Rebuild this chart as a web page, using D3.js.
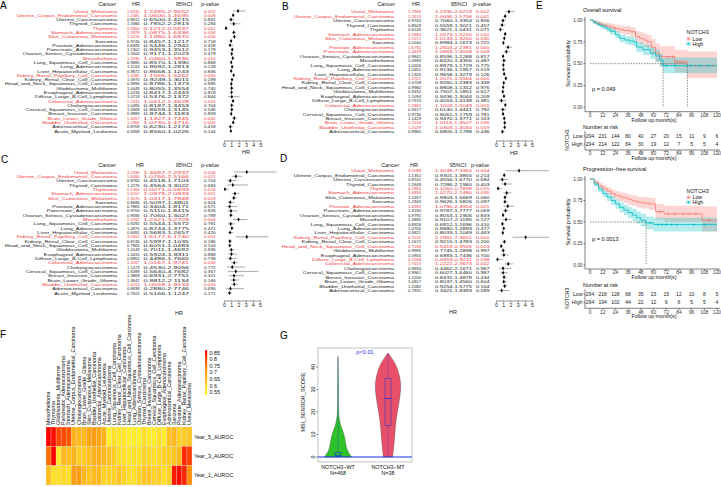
<!DOCTYPE html>
<html>
<head>
<meta charset="utf-8">
<script src="https://cdn.jsdelivr.net/npm/d3@7"></script>
<style>
  body { margin: 0; background: #fff; }
  svg { display: block; font-family: "Liberation Sans", Arial, sans-serif; }
</style>
</head>
<body>
<svg id="fig" width="721" height="487"></svg>
<script>
// ---------- data ----------
const cancers = ["Uveal_Melanoma", "Uterine_Corpus_Endometrial_Carcinoma", "Uterine_Carcinosarcoma", "Thyroid_Carcinoma",
  "Thymoma", "Stomach_Adenocarcinoma", "Skin_Cutaneous_Melanoma", "Sarcoma", "Prostate_Adenocarcinoma",
  "Pancreatic_Adenocarcinoma", "Ovarian_Serous_Cystadenocarcinoma", "Mesothelioma", "Lung_Squamous_Cell_Carcinoma",
  "Lung_Adenocarcinoma", "Liver_Hepatocellular_Carcinoma", "Kidney_Renal_Papillary_Cell_Carcinoma",
  "Kidney_Renal_Clear_Cell_Carcinoma", "Head_and_Neck_Squamous_Cell_Carcinoma", "Glioblastoma_Multiforme",
  "Esophageal_Adenocarcinoma", "Diffuse_Large_B-Cell_Lymphoma", "Colorectal_Adenocarcinoma", "Cholangiocarcinoma",
  "Cervical_Squamous_Cell_Carcinoma", "Breast_Invasive_Carcinoma", "Brain_Lower_Grade_Glioma",
  "Bladder_Urothelial_Carcinoma", "Adrenocortical_Carcinoma", "Acute_Myeloid_Leukemia"];
const cancersNoAML = cancers.slice(0, 28);

// A: OS, univariate
const hrA = [1.9240,1.2481,0.9612,1.3384,0.2660,1.3329,1.4216,0.9740,0.8395,1.1302,1.0500,1.2030,0.9880,1.1144,0.9872,1.3286,1.0970,0.9996,1.0449,1.0234,1.0719,1.2341,1.0495,1.0669,0.9889,1.4057,1.2566,0.8709,0.9358];
const loA = [1.2485,1.0600,0.6500,0.7852,0.1212,1.0875,1.1980,0.8457,0.5446,0.9453,0.9171,1.0460,0.8570,0.9692,0.8668,1.1566,0.9249,0.8786,0.8055,0.8417,0.5376,1.0412,0.8187,0.8659,0.8744,1.1327,1.0730,0.6230,0.8560];
const hiA = [2.9652,1.4695,1.4215,2.2813,0.5837,1.6336,1.6870,1.1217,1.2942,1.3512,1.2023,1.3836,1.1390,1.2813,1.1243,1.5262,1.3011,1.1373,1.3554,1.2443,2.1372,1.4628,1.3453,1.3145,1.1183,1.7445,1.4716,1.2174,1.0226];
const pA  = [0.002,0.008,0.841,0.284,0.001,0.006,0.000,0.718,0.428,0.179,0.479,0.010,0.868,0.128,0.846,0.000,0.289,0.995,0.740,0.818,0.844,0.015,0.704,0.546,0.859,0.002,0.005,0.418,0.144];

// B: PFS
const hrB = [1.7966,1.2613,0.9705,0.8509,0.6145,1.2684,1.1571,1.0240,1.6792,1.4439,0.9841,1.0994,1.0205,1.0452,1.1325,1.3707,1.0708,0.9982,0.9432,1.1094,0.7570,1.2865,0.9417,0.9736,1.1419,1.2114,1.2029,0.8960];
const loB = [1.2335,1.0096,0.7060,0.5559,0.3621,1.0573,1.0143,0.8984,1.2603,1.0963,0.8596,0.8420,0.8879,0.9136,0.9658,1.2071,0.9260,0.8808,0.7507,0.9436,0.4053,1.1003,0.6140,0.8061,0.9470,1.0116,1.0303,0.6805];
const hiB = [2.6219,1.5758,1.3354,1.3021,1.0431,1.5216,1.3200,1.1673,2.2381,1.9018,1.1268,1.4356,1.1729,1.1957,1.3279,1.5564,1.2383,1.1312,1.1851,1.3044,1.4138,1.5049,1.4441,1.1759,1.3771,1.4507,1.4044,1.1798];
const pB  = [0.002,0.041,0.856,0.457,0.071,0.010,0.030,0.721,0.000,0.009,0.817,0.487,0.775,0.519,0.126,0.000,0.348,0.976,0.617,0.209,0.381,0.001,0.782,0.781,0.163,0.036,0.019,0.436];

// C: DSS
const hrC = [3.1596,1.6460,0.8760,1.2276,0.1366,1.5157,1.3570,0.8686,0.7865,0.9700,0.9590,2.0162,0.9292,1.0975,0.8481,3.1602,0.8135,0.7965,1.0149,1.0415,0.8902,1.4167,1.1473,1.6399,1.3869,1.3647,1.4213,0.8939,0.7622];
const loC = [1.3687,1.0766,0.4518,0.4564,0.0271,1.0978,1.0317,0.5097,0.3404,0.5110,0.7060,1.2421,0.5544,0.8744,0.5683,1.6177,0.5997,0.6051,0.7011,0.5924,0.4486,1.0167,0.4530,0.5640,0.6931,0.8812,1.0558,0.2880,0.5166];
const hiC = [7.2937,2.5166,1.7103,3.3022,0.6893,2.0933,1.7848,1.4801,1.8171,1.8415,1.3027,3.2729,1.5572,1.3775,1.2657,6.1740,1.1035,1.0483,1.4692,1.8311,1.7665,1.9741,2.9056,4.7682,2.7751,2.1134,1.9133,2.7746,1.1247];
const pC  = [0.006,0.021,0.704,0.684,0.016,0.011,0.029,0.604,0.571,0.926,0.789,0.004,0.781,0.421,0.420,0.001,0.186,0.104,0.936,0.888,0.739,0.040,0.772,0.367,0.321,0.166,0.020,0.690,0.171];

// D: DFI
const hrD = [3.2088,1.1352,0.8741,1.2649,0.2882,1.4853,1.2457,1.2343,1.6390,1.3190,0.9792,1.3890,0.8926,1.0700,0.9421,4.1122,1.1672,0.7196,0.9995,1.0955,0.2058,1.7013,0.9834,0.9961,1.1200,1.0817,1.2082,0.7931];
const loD = [1.4039,0.9301,0.4556,0.7286,0.1060,1.0270,0.9903,0.9626,1.0786,0.9787,0.8053,0.9107,0.6812,0.8880,0.8033,2.2961,0.9215,0.5419,0.7745,0.6883,0.0459,1.2222,0.4462,0.6027,0.8431,0.8037,0.9254,0.3421];
const hiD = [7.3354,1.3855,1.6770,2.1960,0.7838,2.1480,1.5669,1.5826,2.4904,1.7777,1.1906,2.1185,1.1696,1.2893,1.1049,7.3651,1.4783,0.9555,1.2898,1.7436,0.9211,2.3673,2.1671,1.6460,1.4878,1.4560,1.5775,1.8393];
const pD  = [0.004,0.214,0.684,0.403,0.015,0.036,0.060,0.097,0.021,0.069,0.833,0.127,0.410,0.477,0.463,0.000,0.200,0.023,0.997,0.700,0.038,0.002,0.967,0.987,0.434,0.604,0.164,0.589];

const hrTicks = [0, 1, 2, 3, 4, 5];

// E: Kaplan-Meier curves (months, survival, 95% band)
const osLowT  = [0, 3, 6, 9, 12, 16, 20, 24, 28, 32, 38, 43, 47, 51, 54, 58, 62, 66, 80, 92, 120];
const osLowS  = [1, .98, .965, .952, .94, .93, .915, .90, .89, .88, .866, .81, .79, .77, .75, .69, .62, .58, .52, .477, .477];
const osLowLo = [1, .96, .942, .925, .91, .895, .877, .858, .845, .83, .81, .748, .722, .695, .67, .60, .52, .47, .40, .335, .335];
const osLowHi = [1, 1, .99, .98, .972, .966, .955, .945, .937, .93, .92, .875, .86, .845, .83, .78, .73, .70, .66, .64, .64];
const osLowCens = [74, 78, 82, 85, 88, 99, 110, 116];
const osHighT  = [0, 3, 6, 9, 12, 16, 19, 24, 28, 33, 37, 41, 44, 50, 57, 62, 66, 69, 120];
const osHighS  = [1, .975, .955, .94, .92, .895, .87, .83, .79, .77, .76, .75, .69, .66, .62, .59, .54, .477, .477];
const osHighLo = [1, .955, .93, .91, .888, .86, .832, .79, .745, .722, .71, .698, .632, .60, .555, .52, .465, .39, .39];
const osHighHi = [1, .995, .98, .97, .953, .93, .908, .872, .835, .818, .81, .802, .748, .72, .685, .66, .615, .57, .635];
const osHighCens = [72, 80, 91, 95, 104, 112];

const pfsLowT  = [0, 4, 8, 12, 16, 20, 24, 28, 32, 36, 40, 44, 50, 56, 62, 70, 106, 120];
const pfsLowS  = [1, .96, .92, .89, .86, .83, .81, .79, .78, .76, .745, .73, .72, .71, .62, .595, .52, .52];
const pfsLowLo = [1, .935, .89, .855, .82, .785, .762, .738, .725, .702, .685, .668, .655, .64, .53, .50, .39, .39];
const pfsLowHi = [1, .985, .955, .93, .905, .878, .86, .845, .835, .82, .808, .795, .788, .782, .71, .69, .68, .68];
const pfsLowCens = [66, 74, 80, 88, 94, 100, 112];
const pfsHighT  = [0, 4, 8, 12, 16, 20, 24, 28, 32, 36, 40, 44, 48, 53, 60, 120];
const pfsHighS  = [1, .94, .88, .83, .79, .75, .71, .67, .64, .61, .58, .55, .52, .49, .47, .47];
const pfsHighLo = [1, .91, .845, .79, .745, .70, .655, .612, .58, .545, .512, .48, .448, .415, .39, .39];
const pfsHighHi = [1, .97, .915, .87, .835, .80, .765, .728, .70, .675, .65, .622, .595, .565, .55, .58];
const pfsHighCens = [57, 64, 68, 72, 77, 82, 98, 108];

const riskTimes = [0, 12, 24, 36, 48, 60, 72, 84, 96, 108, 120];
const osRiskLow  = [294, 231, 144, 80, 40, 27, 20, 15, 11, 9, 6];
const osRiskHigh = [294, 214, 122, 64, 30, 19, 12, 7, 5, 5, 4];
const pfsRiskLow  = [294, 218, 128, 68, 35, 23, 15, 12, 10, 8, 5];
const pfsRiskHigh = [294, 194, 102, 44, 22, 12, 9, 6, 5, 5, 4];
const survTicks = [0, 0.25, 0.5, 0.75, 1];

// F: AUROC heatmap
const heatCols = ["Mesothelioma", "Thymoma", "Glioblastoma_Multiforme", "Pancreatic_Adenocarcinoma", "Stomach_Adenocarcinoma",
  "Uterine_Corpus_Endometrial_Carcinoma", "Cholangiocarcinoma", "Brain_Lower_Grade_Glioma", "Skin_Cutaneous_Melanoma",
  "Bladder_Urothelial_Carcinoma", "Colorectal_Adenocarcinoma", "Acute_Myeloid_Leukemia", "Uterine_Carcinosarcoma",
  "Lung_Squamous_Cell_Carcinoma", "Kidney_Renal_Clear_Cell_Carcinoma", "Liver_Hepatocellular_Carcinoma",
  "Head_and_Neck_Squamous_Cell_Carcinoma", "Lung_Adenocarcinoma", "Ovarian_Serous_Cystadenocarcinoma",
  "Thyroid_Carcinoma", "Breast_Invasive_Carcinoma", "Cervical_Squamous_Cell_Carcinoma", "Diffuse_Large_B-Cell_Lymphoma",
  "Esophageal_Adenocarcinoma", "Adrenocortical_Carcinoma", "Sarcoma", "Prostate_Adenocarcinoma",
  "Kidney_Renal_Papillary_Cell_Carcinoma", "Uveal_Melanoma"];
const heatRows = ["Year_5_AUROC", "Year_3_AUROC", "Year_1_AUROC"];
const heat5 = [0.85,0.84,0.79,0.79,0.78,0.67,0.66,0.66,0.69,0.70,0.69,0.67,0.57,0.60,0.59,0.59,0.57,0.58,0.57,0.60,0.58,0.58,0.60,0.58,0.65,0.66,0.62,0.63,0.64];
const heat3 = [0.76,0.85,0.59,0.66,0.65,0.67,0.63,0.63,0.65,0.67,0.67,0.66,0.64,0.63,0.60,0.60,0.59,0.60,0.59,0.62,0.61,0.60,0.61,0.62,0.63,0.64,0.66,0.82,0.80];
const heat1 = [0.65,0.60,0.60,0.61,0.60,0.70,0.70,0.66,0.64,0.66,0.66,0.62,0.62,0.62,0.64,0.62,0.60,0.60,0.62,0.64,0.64,0.62,0.63,0.60,0.62,0.83,0.84,0.82,0.72];
const heatLegend = [0.55, 0.6, 0.65, 0.7, 0.75, 0.8, 0.85];

// G: MSI sensor violin (relative density profile)
const violinY = [0, 1, 2, 3, 4, 6, 8, 10, 12, 14, 16, 18, 20, 25, 30, 35, 40, 44, 45];
const wtDens  = [1.0, .9, .78, .7, .64, .57, .52, .45, .33, .2, .12, .07, .05, .035, .03, .025, .02, .015, 0];
const mtY     = [0, 2, 5, 8, 12, 16, 20, 24, 28, 32, 36, 40, 43, 46];
const mtDens  = [.35, .4, .45, .5, .55, .62, .72, .85, .95, 1.0, .9, .7, .4, .05];
const wtBox = { min: 0, q1: 0.3, med: 0.8, q3: 2, max: 44 };
const mtBox = { min: 0, q1: 14, med: 26, q3: 35, max: 46 };
const msiTicks = [0, 10, 20, 30, 40];

// ---------- drawing ----------
const RED = "#f0363c", INK = "#1a1a1a";
const svg = d3.select("#fig");
svg.append("rect").attr("width", 721).attr("height", 487).attr("fill", "#fff");

function label(t, x, y) {
  svg.append("text").attr("x", x).attr("y", y).attr("font-size", 10).attr("fill", "#000").text(t);
}

function drawForest(c) {
  const g = svg.append("g");
  const n = c.names.length;
  const y = d3.scaleLinear().domain([0, n - 1]).range([c.top, c.bottom]);
  const x = d3.scaleLinear().domain([0, 5]).range([c.fx0, c.fx1]);
  const f4 = d3.format(".4f"), f3 = d3.format(".3f");
  const fs = 5.5;
  const head = g.append("g").attr("font-size", fs).attr("fill", INK);
  head.append("text").attr("x", c.hName).attr("y", c.head).attr("text-anchor", "end").text("Cancer");
  head.append("text").attr("x", c.hHR).attr("y", c.head).attr("text-anchor", "middle").text("HR");
  head.append("text").attr("x", c.hCI).attr("y", c.head).attr("text-anchor", "middle").text("95%CI");
  head.append("text").attr("x", c.hP).attr("y", c.head).attr("text-anchor", "middle").text("p-value");

  const rows = g.selectAll("g.row").data(c.names).join("g")
    .attr("transform", (d, i) => `translate(0,${y(i)})`)
    .attr("font-size", fs)
    .attr("fill", (d, i) => c.p[i] < 0.05 ? RED : INK);
  // text is squashed vertically, as in the tightly packed original table
  const tx = rows.append("g").attr("transform", "scale(1,0.8)");
  tx.append("text").attr("x", c.xName).attr("dy", "0.36em").attr("text-anchor", "end").text(d => d);
  tx.append("text").attr("x", c.xHR).attr("dy", "0.36em")
    .attr("textLength", c.wHR).attr("lengthAdjust", "spacingAndGlyphs").text((d, i) => f4(c.hr[i]));
  tx.append("text").attr("x", c.xCI).attr("dy", "0.36em")
    .attr("textLength", c.wCI).attr("lengthAdjust", "spacingAndGlyphs").text((d, i) => f4(c.lo[i]) + "-" + f4(c.hi[i]));
  tx.append("text").attr("x", c.xP).attr("dy", "0.36em")
    .attr("textLength", c.wP).attr("lengthAdjust", "spacingAndGlyphs").text((d, i) => f3(c.p[i]));

  rows.append("line").attr("x1", (d, i) => x(c.lo[i])).attr("x2", (d, i) => x(c.hi[i]))
    .attr("stroke", "#555").attr("stroke-width", 0.5);
  rows.append("path").attr("d", d3.symbol(d3.symbolDiamond, 5))
    .attr("transform", (d, i) => `translate(${x(c.hr[i])},0)`).attr("fill", "#000");

  const ax = g.append("g").attr("transform", `translate(0,${c.axisY})`)
    .call(d3.axisBottom(x).tickValues(hrTicks).tickFormat(d3.format("d")).tickSize(2).tickSizeOuter(0).tickPadding(0.5));
  ax.selectAll("path,line").attr("stroke", "#333").attr("stroke-width", 0.5);
  ax.selectAll("text").attr("font-size", 5.2).attr("fill", INK).attr("font-family", "Liberation Sans, Arial");
  g.append("text").attr("x", c.hrX).attr("y", c.hrY).attr("text-anchor", "middle")
    .attr("font-size", 5.5).attr("fill", INK).text("HR");
}

const colsAC = { xName: 117, xHR: 127, wHR: 12.5, xCI: 143.5, wCI: 45.5, xP: 204, wP: 11.5, hName: 116, hHR: 136, hCI: 184, hP: 210 };
const colsBD = { xName: 394, xHR: 408, wHR: 13, xCI: 435, wCI: 37, xP: 476, wP: 13.5, hName: 395, hHR: 416, hCI: 459, hP: 482 };

drawForest(Object.assign({ names: cancers, hr: hrA, lo: loA, hi: hiA, p: pA, top: 11, bottom: 131,
  head: 6, fx0: 224, fx1: 260.5, axisY: 140.5, hrX: 246, hrY: 153.5 }, colsAC));
drawForest(Object.assign({ names: cancersNoAML, hr: hrB, lo: loB, hi: hiB, p: pB, top: 11.7, bottom: 131.7,
  head: 6, fx0: 496, fx1: 532, axisY: 140.5, hrX: 514, hrY: 154.5 }, colsBD));
drawForest(Object.assign({ names: cancers, hr: hrC, lo: loC, hi: hiC, p: pC, top: 172, bottom: 293,
  head: 167, fx0: 224, fx1: 260, axisY: 300.5, hrX: 179, hrY: 315 }, colsAC, { hHR: 140 }));
drawForest(Object.assign({ names: cancersNoAML, hr: hrD, lo: loD, hi: hiD, p: pD, top: 170.7, bottom: 290.5,
  head: 167, fx0: 496, fx1: 532, axisY: 300.5, hrX: 453, hrY: 314 }, colsBD, { hName: 399, hHR: 414, hCI: 458, hP: 480 }));

label("A", 0, 9); label("B", 282, 10); label("C", 1, 163); label("D", 280, 162);
label("E", 536, 9); label("F", 0, 338); label("G", 280, 339);

// ---------- E: survival ----------
const LOWC = "#F8766D", HIGHC = "#00BFC4";
const xM = d3.scaleLinear().domain([0, 120]).range([590, 717]);

function stepAt(ts, vs, t) { return vs[Math.max(0, d3.bisectRight(ts, t) - 1)]; }

function drawSurv(c) {
  const g = svg.append("g");
  const y = d3.scaleLinear().domain([0, 1]).range([c.y0, c.y1]);
  const tick = 4.8;
  g.append("text").attr("x", 583).attr("y", c.title).attr("font-size", 5.6).attr("fill", "#111").text(c.name);
  c.groups.forEach(gr => {
    const pts = gr.t.map((t, i) => ({ t, s: gr.s[i], lo: gr.lo[i], hi: gr.hi[i] }));
    g.append("path").datum(pts).attr("fill", gr.color).attr("fill-opacity", 0.3)
      .attr("d", d3.area().curve(d3.curveStepAfter).x(d => xM(d.t)).y0(d => y(d.lo)).y1(d => y(d.hi)));
  });
  // median lines
  const meds = c.groups.map(gr => { const i = gr.s.findIndex(v => v <= 0.5); return i < 0 ? null : gr.t[i]; })
    .filter(v => v !== null);
  if (meds.length) {
    g.append("line").attr("x1", xM(0)).attr("x2", xM(d3.max(meds))).attr("y1", y(0.5)).attr("y2", y(0.5))
      .attr("stroke", "#222").attr("stroke-width", 0.5).attr("stroke-dasharray", "1.5,1.2");
    meds.forEach(m => g.append("line").attr("x1", xM(m)).attr("x2", xM(m)).attr("y1", y(0.5)).attr("y2", y(0))
      .attr("stroke", "#222").attr("stroke-width", 0.5).attr("stroke-dasharray", "1.5,1.2"));
  }
  c.groups.forEach(gr => {
    const pts = gr.t.map((t, i) => ({ t, s: gr.s[i] }));
    g.append("path").datum(pts).attr("fill", "none").attr("stroke", gr.color).attr("stroke-width", 0.8)
      .attr("d", d3.line().curve(d3.curveStepAfter).x(d => xM(d.t)).y(d => y(d.s)));
    gr.cens.forEach(t => {
      const cx = xM(t), cy = y(stepAt(gr.t, gr.s, t));
      g.append("path").attr("d", `M${cx - 1.3},${cy}H${cx + 1.3}M${cx},${cy - 1.3}V${cy + 1.3}`)
        .attr("stroke", gr.color).attr("stroke-width", 0.6);
    });
  });
  // axes
  g.append("line").attr("x1", 585).attr("x2", 585).attr("y1", c.y1 - 3).attr("y2", c.axisY).attr("stroke", "#000").attr("stroke-width", 0.5);
  g.append("line").attr("x1", 585).attr("x2", 720).attr("y1", c.axisY).attr("y2", c.axisY).attr("stroke", "#000").attr("stroke-width", 0.5);
  survTicks.forEach(v => {
    g.append("line").attr("x1", 583.5).attr("x2", 585).attr("y1", y(v)).attr("y2", y(v)).attr("stroke", "#000").attr("stroke-width", 0.5);
    g.append("text").attr("x", 582.5).attr("y", y(v)).attr("dy", "0.35em").attr("text-anchor", "end")
      .attr("font-size", tick).attr("fill", "#333").text(d3.format(".2f")(v));
  });
  riskTimes.forEach(t => {
    g.append("line").attr("x1", xM(t)).attr("x2", xM(t)).attr("y1", c.axisY).attr("y2", c.axisY + 1.5).attr("stroke", "#000").attr("stroke-width", 0.5);
    g.append("text").attr("x", xM(t)).attr("y", c.axisY + 5.4).attr("text-anchor", "middle")
      .attr("font-size", tick).attr("fill", "#333").text(t);
  });
  g.append("text").attr("x", 654).attr("y", c.axisY + 10.4).attr("text-anchor", "middle").attr("font-size", 5.3).attr("fill", "#111").text("Follow up month(s)");
  g.append("text").attr("transform", `translate(570,${(c.y0 + c.y1) / 2}) rotate(-90)`).attr("text-anchor", "middle")
    .attr("font-size", 5.6).attr("fill", "#111").text("Survival probability");
  g.append("text").attr("x", 592).attr("y", c.pY).attr("font-size", 5.6).attr("fill", "#111").text(c.pText);
  // legend
  g.append("text").attr("x", 686.5).attr("y", c.legY).attr("font-size", 5.4).attr("fill", "#111").text("NOTCH3");
  c.groups.forEach((gr, i) => {
    const ly = c.legY + 4.8 + i * 5;
    g.append("rect").attr("x", 686.5).attr("y", ly - 2).attr("width", 4).attr("height", 4).attr("fill", gr.color).attr("fill-opacity", 0.3);
    g.append("path").attr("d", `M686.5,${ly}H690.5M688.5,${ly - 1.3}V${ly + 1.3}`).attr("stroke", gr.color).attr("stroke-width", 0.6);
    g.append("text").attr("x", 692.5).attr("y", ly).attr("dy", "0.35em").attr("font-size", 5.2).attr("fill", "#111").text(gr.name);
  });
  // risk table
  const r = c.risk;
  g.append("text").attr("x", 583).attr("y", r.title).attr("font-size", 5.4).attr("fill", "#111").text("Number at risk");
  g.append("line").attr("x1", 585).attr("x2", 585).attr("y1", r.rows[0] - 5).attr("y2", r.axisY).attr("stroke", "#000").attr("stroke-width", 0.5);
  g.append("line").attr("x1", 585).attr("x2", 720).attr("y1", r.axisY).attr("y2", r.axisY).attr("stroke", "#000").attr("stroke-width", 0.5);
  c.groups.forEach((gr, i) => {
    const ry = r.rows[i];
    g.append("line").attr("x1", 583.5).attr("x2", 585).attr("y1", ry).attr("y2", ry).attr("stroke", "#000").attr("stroke-width", 0.5);
    g.append("text").attr("x", 582.5).attr("y", ry).attr("dy", "0.35em").attr("text-anchor", "end").attr("font-size", 5.2).attr("fill", "#222").text(gr.name);
    gr.risk.forEach((v, j) => g.append("text").attr("x", xM(riskTimes[j])).attr("y", ry).attr("dy", "0.35em")
      .attr("text-anchor", "middle").attr("font-size", 5).attr("fill", "#222").text(v));
  });
  riskTimes.forEach(t => {
    g.append("line").attr("x1", xM(t)).attr("x2", xM(t)).attr("y1", r.axisY).attr("y2", r.axisY + 1.5).attr("stroke", "#000").attr("stroke-width", 0.5);
    g.append("text").attr("x", xM(t)).attr("y", r.axisY + 5.2).attr("text-anchor", "middle").attr("font-size", tick).attr("fill", "#333").text(t);
  });
  g.append("text").attr("x", 654).attr("y", r.axisY + 10).attr("text-anchor", "middle").attr("font-size", 5.3).attr("fill", "#111").text("Follow up month(s)");
  g.append("text").attr("transform", `translate(569,${(r.rows[0] + r.rows[1]) / 2}) rotate(-90)`).attr("text-anchor", "middle")
    .attr("font-size", 5.2).attr("fill", "#111").text("NOTCH3");
}

drawSurv({
  name: "Overall survival", title: 11.5, y0: 107.3, y1: 20, axisY: 111.7, pY: 91, pText: "p = 0.049", legY: 34,
  groups: [
    { name: "Low", color: LOWC, t: osLowT, s: osLowS, lo: osLowLo, hi: osLowHi, cens: osLowCens, risk: osRiskLow },
    { name: "High", color: HIGHC, t: osHighT, s: osHighS, lo: osHighLo, hi: osHighHi, cens: osHighCens, risk: osRiskHigh }],
  risk: { title: 128.5, rows: [136, 144], axisY: 150 }
});
drawSurv({
  name: "Progression\u2212free survival", title: 171, y0: 265, y1: 179, axisY: 269, pY: 241, pText: "p = 0.0013", legY: 192.5,
  groups: [
    { name: "Low", color: LOWC, t: pfsLowT, s: pfsLowS, lo: pfsLowLo, hi: pfsLowHi, cens: pfsLowCens, risk: pfsRiskLow },
    { name: "High", color: HIGHC, t: pfsHighT, s: pfsHighS, lo: pfsHighLo, hi: pfsHighHi, cens: pfsHighCens, risk: pfsRiskHigh }],
  risk: { title: 286.5, rows: [294.3, 302.3], axisY: 308.3 }
});

// ---------- F: heatmap ----------
const hx = d3.scaleBand().domain(heatCols).range([46, 192]);
const hy = d3.scaleBand().domain(heatRows).range([427, 485]);
const heatColor = d3.scaleLinear().domain([0.55, 0.65, 0.75, 0.85])
  .range(["#ffff30", "#ffc020", "#ff7a00", "#ff0000"]).clamp(true);
const heatVals = [heat5, heat3, heat1];
const fg = svg.append("g");
heatRows.forEach((r, ri) => {
  fg.selectAll(null).data(heatCols).join("rect")
    .attr("x", d => hx(d)).attr("y", hy(r)).attr("width", hx.bandwidth()).attr("height", hy.bandwidth())
    .attr("fill", (d, i) => heatColor(heatVals[ri][i])).attr("stroke", "#d9d9d9").attr("stroke-width", 0.3);
  fg.append("text").attr("x", 194).attr("y", hy(r) + hy.bandwidth() / 2).attr("dy", "0.35em")
    .attr("font-size", 5.4).attr("fill", "#111").text(r);
});
fg.selectAll("text.col").data(heatCols).join("text").attr("class", "col")
  .attr("transform", d => `translate(${hx(d) + hx.bandwidth() / 2 + 1.8},425) rotate(-90)`)
  .attr("font-size", 5.4).attr("fill", "#111").text(d => d);
// legend
const ly = d3.scaleLinear().domain([0.55, 0.85]).range([392.3, 352.7]);
const grad = svg.append("defs").append("linearGradient").attr("id", "hgrad").attr("x1", 0).attr("x2", 0).attr("y1", 1).attr("y2", 0);
d3.range(0, 1.0001, 0.1).forEach(o => grad.append("stop").attr("offset", o).attr("stop-color", heatColor(0.55 + o * 0.3)));
fg.append("rect").attr("x", 205).attr("y", ly(0.85) - 2.5).attr("width", 2.2).attr("height", ly(0.55) - ly(0.85) + 5).attr("fill", "url(#hgrad)");
heatLegend.forEach(v => fg.append("text").attr("x", 209.5).attr("y", ly(v)).attr("dy", "0.35em")
  .attr("font-size", 5.4).attr("fill", "#111").text(String(v)));

// ---------- G: violin ----------
const gg = svg.append("g");
const vy = d3.scaleLinear().domain([0, 40]).range([457, 367]);
const vx = d3.scalePoint().domain(["NOTCH3\u2212WT", "NOTCH3\u2212MT"]).range([338, 388]);
gg.append("rect").attr("x", 318).attr("y", 348).attr("width", 94).attr("height", 114).attr("fill", "none").attr("stroke", "#888").attr("stroke-width", 0.5);
function violin(cx, ys, dens, half, color) {
  const pts = ys.map((v, i) => ({ v, w: dens[i] }));
  gg.append("path").datum(pts).attr("fill", color).attr("stroke", "#333").attr("stroke-width", 0.3)
    .attr("d", d3.area().curve(d3.curveBasis).y(d => vy(d.v)).x0(d => cx - d.w * half).x1(d => cx + d.w * half));
}
violin(vx("NOTCH3\u2212WT"), violinY, wtDens, 13.5, "#2fc12a");
violin(vx("NOTCH3\u2212MT"), mtY, mtDens, 13, "#e8506a");
function box(cx, b) {
  gg.append("line").attr("x1", cx).attr("x2", cx).attr("y1", vy(b.q3)).attr("y2", vy(b.max))
    .attr("stroke", "#1030e0").attr("stroke-width", 0.6).attr("stroke-dasharray", "1,1");
  gg.append("line").attr("x1", cx).attr("x2", cx).attr("y1", vy(b.q1)).attr("y2", vy(b.min))
    .attr("stroke", "#1030e0").attr("stroke-width", 0.6).attr("stroke-dasharray", "1,1");
  gg.append("rect").attr("x", cx - 3).attr("y", vy(b.q3)).attr("width", 6).attr("height", vy(b.q1) - vy(b.q3))
    .attr("fill", "none").attr("stroke", "#1030e0").attr("stroke-width", 0.5);
  gg.append("line").attr("x1", cx - 3).attr("x2", cx + 3).attr("y1", vy(b.med)).attr("y2", vy(b.med))
    .attr("stroke", "#1030e0").attr("stroke-width", 0.8);
}
box(vx("NOTCH3\u2212WT"), wtBox);
box(vx("NOTCH3\u2212MT"), mtBox);
gg.append("line").attr("x1", 318).attr("x2", 412).attr("y1", vy(0)).attr("y2", vy(0)).attr("stroke", "#1a2ee8").attr("stroke-width", 1.2);
msiTicks.forEach(v => {
  gg.append("line").attr("x1", 316).attr("x2", 318).attr("y1", vy(v)).attr("y2", vy(v)).attr("stroke", "#333").attr("stroke-width", 0.5);
  gg.append("text").attr("transform", `translate(314.5,${vy(v)}) rotate(-90)`).attr("text-anchor", "middle")
    .attr("font-size", 5.4).attr("fill", "#111").text(v);
});
gg.append("text").attr("transform", "translate(305,402) rotate(-90)").attr("text-anchor", "middle")
  .attr("font-size", 5.6).attr("fill", "#111").text("MSI_SENSOR_SCORE");
const nLab = ["N=468", "N=38"];
vx.domain().forEach((k, i) => {
  gg.append("text").attr("x", vx(k)).attr("y", 468.5).attr("text-anchor", "middle").attr("font-size", 5.4).attr("fill", "#111").text(k);
  gg.append("text").attr("x", vx(k)).attr("y", 475).attr("text-anchor", "middle").attr("font-size", 5.4).attr("fill", "#111").text(nLab[i]);
});
gg.append("text").attr("x", 365).attr("y", 354).attr("text-anchor", "middle").attr("font-size", 5.6).attr("fill", "#1a2ee8").text("p<0.01");
</script>
</body>
</html>
